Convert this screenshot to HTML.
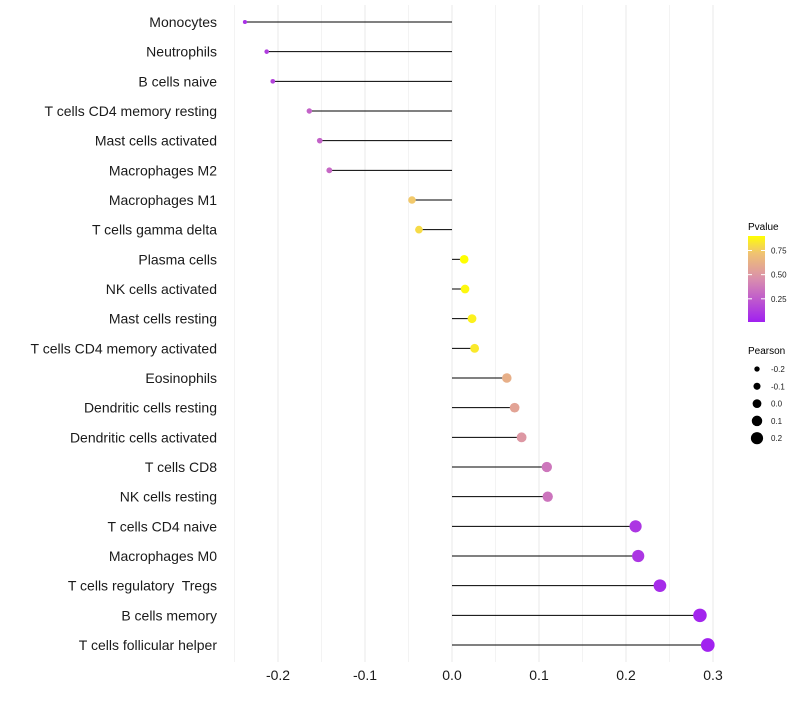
<!DOCTYPE html>
<html><head><meta charset="utf-8"><style>
body{margin:0;background:#fff;font-family:"Liberation Sans",sans-serif}
#ylabels text{white-space:pre}
</style></head><body>
<svg id="chart" width="800" height="700" xmlns="http://www.w3.org/2000/svg" font-family="Liberation Sans, sans-serif">
<g id="grid"></g>
<g id="marks"></g>
<g id="ylabels"></g>
<g id="xlabels"></g>
<g id="legend"></g>
</svg>
<script>
const categories=["Monocytes","Neutrophils","B cells naive","T cells CD4 memory resting","Mast cells activated","Macrophages M2","Macrophages M1","T cells gamma delta","Plasma cells","NK cells activated","Mast cells resting","T cells CD4 memory activated","Eosinophils","Dendritic cells resting","Dendritic cells activated","T cells CD8","NK cells resting","T cells CD4 naive","Macrophages M0","T cells regulatory  Tregs","B cells memory","T cells follicular helper"];
const pearson=[-0.238,-0.213,-0.206,-0.164,-0.152,-0.141,-0.046,-0.038,0.014,0.015,0.023,0.026,0.063,0.072,0.080,0.109,0.110,0.211,0.214,0.239,0.285,0.294];
const pvalue=[0.08,0.13,0.15,0.28,0.28,0.3,0.75,0.8,0.9,0.88,0.86,0.84,0.62,0.56,0.5,0.36,0.35,0.1,0.1,0.06,0.03,0.02];
const xTicks=[-0.2,-0.1,0.0,0.1,0.2,0.3];
const xTickLabels=["-0.2","-0.1","0.0","0.1","0.2","0.3"];
const pTicks=[0.25,0.5,0.75];
const sizeTicks=[-0.2,-0.1,0.0,0.1,0.2];

const NS="http://www.w3.org/2000/svg";
const x=v=>452+v*870;
const y=i=>22+i*29.667;
const rad=v=>4.2+9*v;
const stops=[[0.01,[160,32,240]],[0.45,[217,141,174]],[0.75,[242,201,107]],[0.9,[255,255,0]]];
function col(p){
  if(p<=stops[0][0])return `rgb(${stops[0][1]})`;
  for(let k=1;k<stops.length;k++){if(p<=stops[k][0]){const a=stops[k-1],b=stops[k],t=(p-a[0])/(b[0]-a[0]);return `rgb(${a[1].map((c,j)=>Math.round(c+(b[1][j]-c)*t))})`;}}
  return "rgb(255,255,0)";
}
function mk(tag,attrs,parent){const e=document.createElementNS(NS,tag);for(const k in attrs)e.setAttribute(k,attrs[k]);parent.appendChild(e);return e;}
const grid=document.getElementById('grid'),marks=document.getElementById('marks'),yl=document.getElementById('ylabels'),xl=document.getElementById('xlabels'),lg=document.getElementById('legend');
for(let v=-0.25;v<=0.301;v+=0.05){
  const g=mk('line',{x1:x(v),x2:x(v),y1:5,y2:662,stroke:'#ebebeb','stroke-width':Math.abs(Math.round(v*20)%2)===1?0.6:1.1},grid);
  
  
}
categories.forEach((c,i)=>{
  const l=mk('line',{x1:x(0),x2:x(pearson[i]),y1:y(i),y2:y(i),stroke:'#000','stroke-width':1},marks);
  
  
  const d=mk('circle',{cx:x(pearson[i]),cy:y(i),r:rad(pearson[i]),fill:col(pvalue[i])},marks);
  
  
  const t=mk('text',{x:217,y:y(i)+5,'text-anchor':'end','font-size':14,fill:'#1a1a1a','xml:space':'preserve'},yl);
  t.textContent=c;
  
  
});
xTicks.forEach((v,i)=>{
  const t=mk('text',{x:x(v),y:680,'text-anchor':'middle','font-size':14,fill:'#1a1a1a'},xl);
  t.textContent=xTickLabels[i];
  
  
});
const pt=mk('text',{x:748,y:230,'font-size':10,fill:'#000'},lg);pt.textContent='Pvalue';


const defs=mk('defs',{},lg);const gr=mk('linearGradient',{id:'pg',x1:0,y1:1,x2:0,y2:0},defs);
for(let k=0;k<=10;k++){const p=0.01+k*0.089;mk('stop',{offset:(k/10),'stop-color':col(p)},gr);}
const bar=mk('rect',{x:748,y:236,width:17,height:86,fill:'url(#pg)'},lg);


const py=p=>322-(p-0.01)/0.89*86;
pTicks.forEach(p=>{
  mk('line',{x1:748,x2:752,y1:py(p),y2:py(p),stroke:'#fff'},lg);mk('line',{x1:761,x2:765,y1:py(p),y2:py(p),stroke:'#fff'},lg);
  const t=mk('text',{x:771,y:py(p)+3,'font-size':8,fill:'#1a1a1a'},lg);t.textContent=p.toFixed(2);
  
  
});
const st=mk('text',{x:748,y:354,'font-size':10,fill:'#000'},lg);st.textContent='Pearson';


sizeTicks.forEach((v,k)=>{
  const cy=369+k*17.3;
  const c=mk('circle',{cx:757,cy:cy,r:rad(v)*0.95+0.4,fill:'#000'},lg);
  
  
  const t=mk('text',{x:771,y:cy+3,'font-size':8,fill:'#1a1a1a'},lg);t.textContent=v.toFixed(1);
  
  
});
</script>
</body></html>
